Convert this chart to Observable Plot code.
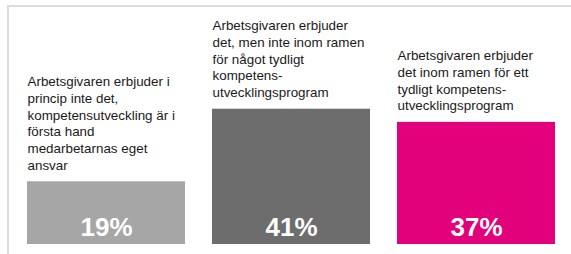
<!DOCTYPE html>
<html>
<head>
<meta charset="utf-8">
<script src="https://cdn.jsdelivr.net/npm/d3@7"></script>
<script src="https://cdn.jsdelivr.net/npm/@observablehq/plot@0.6"></script>
<style>
  html, body { margin: 0; padding: 0; background: #fff; }
  #wrap { position: relative; width: 571px; height: 254px; overflow: hidden; }
  #frame { position: absolute; left: 7px; top: 5px; right: -10px; bottom: -10px;
           border-top: 2px solid #dcdcdc; border-left: 2px solid #dcdcdc; }
  #chart { position: absolute; left: 0; top: 0; }
</style>
</head>
<body>
<div id="wrap"><div id="frame"></div><div id="chart"></div></div>
<script>
const categories = [
  "Arbetsgivaren erbjuder i\nprincip inte det,\nkompetensutveckling är i\nförsta hand\nmedarbetarnas eget\nansvar",
  "Arbetsgivaren erbjuder\ndet, men inte inom ramen\nför något tydligt\nkompetens-\nutvecklingsprogram",
  "Arbetsgivaren erbjuder\ndet inom ramen för ett\ntydligt kompetens-\nutvecklingsprogram"
];
const values = [19, 41, 37];
const valueLabels = ["19%", "41%", "37%"];
const colors = ["#a6a6a6", "#6d6d6d", "#e3007b"];

const data = categories.map((c, i) => ({ cat: c, value: values[i], label: valueLabels[i], color: colors[i] }));

const chart = Plot.plot({
  width: 571,
  height: 254,
  marginLeft: 26,
  marginRight: 14,
  marginTop: 13,
  marginBottom: 10,
  style: { fontFamily: "'Liberation Sans', Arial, sans-serif", background: "transparent" },
  x: { domain: categories, paddingInner: 0.145, paddingOuter: 0, axis: null },
  y: { domain: [0, 70], axis: null },
  marks: [
    Plot.barY(data, { x: "cat", y: "value", fill: "color" }),
    Plot.text(data, {
      x: "cat", y: 0, text: "label", fill: "white", fontWeight: "bold",
      fontSize: 26, lineAnchor: "bottom", dy: -9
    }),
    Plot.text(data, {
      x: "cat", y: "value", text: "cat", fill: "#1a1a1a", fontSize: 13.4,
      textAnchor: "start", lineAnchor: "bottom", lineHeight: 1.25, dx: -79, dy: -12
    })
  ]
});
document.getElementById("chart").appendChild(chart);
</script>
</body>
</html>
